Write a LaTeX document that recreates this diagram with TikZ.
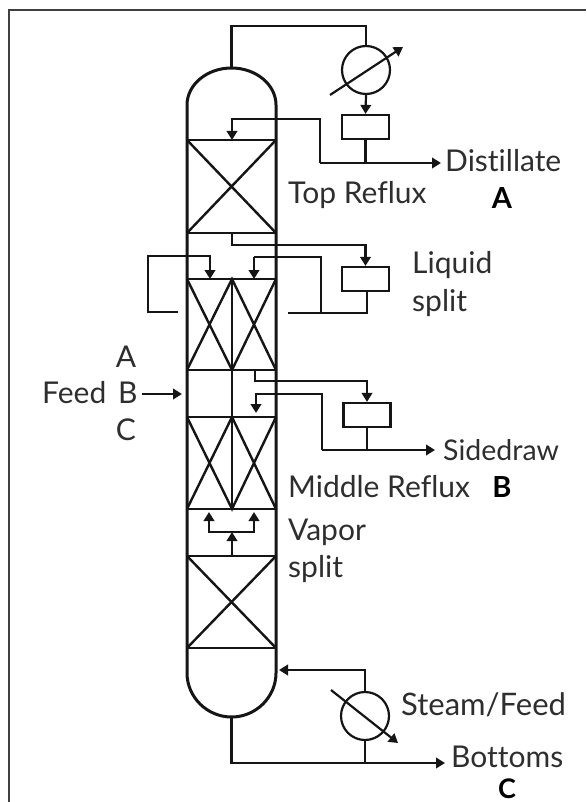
\documentclass[tikz,border=0pt]{standalone}
\usepackage{fontspec}
\setmainfont[Ligatures=NoCommon]{Lato}
\usetikzlibrary{arrows.meta}
\definecolor{ink}{HTML}{151515}
\definecolor{txt}{HTML}{2E2E2E}
\tikzset{
  wall/.style={draw=ink,line width=3pt},
  tray/.style={draw=ink,line width=2.4pt},
  pipe/.style={draw=ink,line width=2.2pt},
  flow/.style={pipe,-{Triangle[length=9pt,width=10.5pt]}},
  drum/.style={draw=ink,line width=2.2pt,minimum width=47pt,minimum height=24pt,inner sep=0pt,fill=white},
  hx/.style={circle,draw=ink,line width=2.2pt,minimum size=48pt,inner sep=0pt},
  lab/.style={anchor=base west,inner sep=0pt,text=txt,font=\fontsize{30}{30}\selectfont},
  cab/.style={anchor=base,inner sep=0pt,text=txt,font=\fontsize{30}{30}\selectfont},
  blab/.style={anchor=base,inner sep=0pt,text=black,font=\fontsize{29}{29}\selectfont\bfseries},
  frame/.style={draw=black!75,line width=2pt}
}
\begin{document}
\begin{tikzpicture}[x=1pt,y=-1pt,line join=miter]
\useasboundingbox (0,0) rectangle (586,802);
\draw[frame] (8.5,802) -- (8.5,10) -- (586,10);

% named points
\coordinate (ctop) at (231.5,68);
\coordinate (cbot) at (231.5,717);
\coordinate (tpT) at (232,140);
\coordinate (tpB) at (232,233);
\coordinate (lfeedL) at (210,279);
\coordinate (lfeedR) at (254,279);
\coordinate (stubL) at (178,312);
\coordinate (stubR) at (288,313);
\coordinate (drawS) at (255,370);
\coordinate (retS) at (256,413);
\coordinate (feedS) at (142,394);
\coordinate (feedE) at (182,394);
\coordinate (vapB) at (232,556);
\coordinate (vapM) at (232,532);
\coordinate (vapL) at (209,512);
\coordinate (vapR) at (254,512);
\coordinate (rebIn) at (279,670);

% column
\draw[wall] (187,105) .. controls (187,84.6) and (207,68) .. (ctop)
  .. controls (256,68) and (276,84.6) .. (276,105) -- (276,673)
  .. controls (276,697) and (256,717) .. (cbot)
  .. controls (207,717) and (187,697) .. (187,673) -- cycle;
% trays and packing
\foreach \ya/\yb in {140/233,556/648}{
  \draw[tray] (187,\ya) -- (276,\ya) (187,\yb) -- (276,\yb);
  \draw[tray] (187,\ya) -- (276,\yb) (276,\ya) -- (187,\yb);
}
\foreach \ya/\yb in {279/370,417/509}{
  \draw[tray] (187,\ya) -- (276,\ya) (187,\yb) -- (276,\yb);
  \draw[tray] (187,\ya) -- (232,\yb) -- (276,\ya) (187,\yb) -- (232,\ya) -- (276,\yb);
}
\draw[tray] (232,279) -- (232,509);

% equipment
\node[hx] (cond) at (366,70) {};
\node[drum] (topd) at (365.5,127) {};
\node[drum] (liqd) at (365.5,279) {};
\node[drum] (sided) at (367,415) {};
\node[hx] (reb) at (365,716) {};

% labels
\node[lab] (ldist) at (445,172) {Distillate};
\node[blab] (la) at (502,208) {A};
\node[lab] (ltop) at (288,204) {Top Reflux};
\node[lab] (lliq) at (412,273) {Liquid};
\node[lab] (lspl) at (412,311) {split};
\node[cab] (lfa) at (126,367) {A};
\node[lab] (lfeed) at (42,403) {Feed};
\node[lab] (lfb) at (118,403) {B};
\node[cab] (lfc) at (126,440) {C};
\node[lab,font=\fontsize{28.5}{30}\selectfont] (lsd) at (443,460) {Sidedraw};
\node[lab] (lmid) at (288,497) {Middle Reflux};
\node[blab] (lb) at (502,497) {B};
\node[lab] (lvap) at (288,540) {Vapor};
\node[lab] (lspv) at (288,577) {split};
\node[lab,font=\fontsize{31}{30}\selectfont] (lsteam) at (401,715) {Steam/Feed};
\node[lab] (lbot) at (451,767) {Bottoms};
\node[blab,font=\fontsize{27}{27}\selectfont\bfseries] (lc) at (507,798) {C};

% overhead
\draw[pipe] (ctop) |- (300,26) -| (cond.north);
\coordinate (condA) at (330,95);
\coordinate (condB) at (403,47);
\draw[flow] (condA) -- (condB);
\draw[flow] (cond.south) -- (topd.north);
\coordinate (distJ) at (365.5,163);
\coordinate (distE) at (441,163);
\draw[pipe] (topd.south) -- (distJ);
\draw[flow] (320,163) -- (distE);
\draw[flow] (320,163) -- (320,119) -- (232,119) -- (tpT);
% liquid split
\draw[flow] (tpB) -- (232,245) -- (365.5,245) -- (liqd.north);
\draw[flow] (stubL) -- (148,312) -- (148,256) -- (210,256) -- (lfeedL);
\draw[pipe] (321,313) -- (321,257) -- (254,257);
\draw[flow] (254,257) -- (lfeedR);
\draw[pipe] (stubR) -- (367,313) -- (367,291);
% side draw
\draw[flow] (drawS) -- (255,381) -- (367,381) -- (sided.north);
\draw[pipe] (sided.south) -- (367,450);
\draw[flow] (322,450) -- (435,450);
\draw[flow] (322,450) -- (322,394) -- (256,394) -- (retS);
% feed
\draw[flow] (feedS) -- (feedE);
% vapor split
\draw[flow] (vapB) -- (vapM);
\draw[flow] (232,532) -- (209,532) -- (vapL);
\draw[flow] (232,532) -- (254,532) -- (vapR);
% bottoms
\draw[flow] (reb.north) -- (365,670) -- (rebIn);
\coordinate (rebA) at (331,690);
\coordinate (rebB) at (398,743);
\draw[flow] (rebA) -- (rebB);
\draw[pipe] (reb.south) -- (365,763);
\draw[flow] (cbot) -- (231.5,763) -- (445,763);
\end{tikzpicture}
\end{document}
